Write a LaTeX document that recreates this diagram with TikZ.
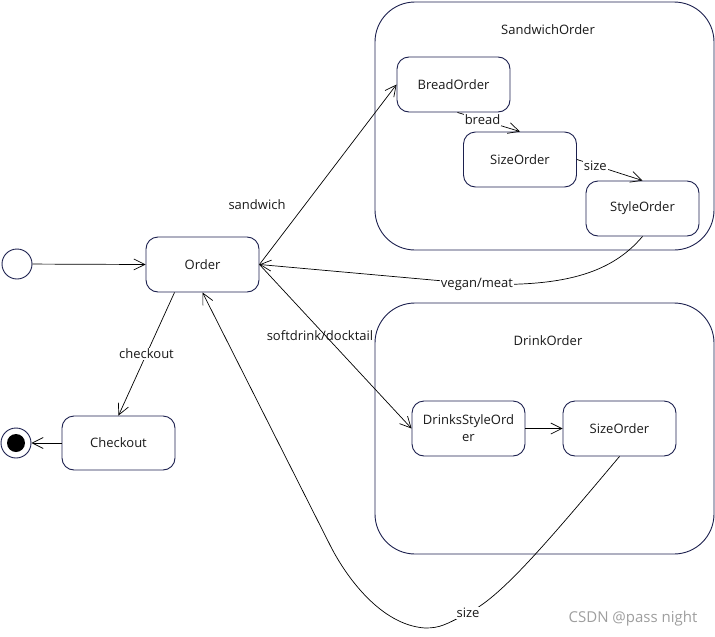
\documentclass[tikz,border=0pt]{standalone}
\usepackage{fontspec}
\setmainfont{Open Sans}
\usetikzlibrary{arrows.meta}
\definecolor{navy}{RGB}{28,32,78}
\begin{document}
\begin{tikzpicture}[x=1pt,y=-1pt,
  every node/.style={font=\fontsize{13}{17}\selectfont, text=black!90},
  state/.style={draw=navy, line width=0.9pt, rounded corners=12pt, minimum width=113pt, minimum height=55pt, inner sep=0pt, align=center},
  cont/.style={draw=navy, line width=0.9pt, rounded corners=40pt, minimum width=339pt, inner sep=0pt},
  arr/.style={draw=black, line width=0.7pt, -{Straight Barb[length=11pt,width=11pt]}},
  lbl/.style={fill=white, inner sep=1pt},
  pseudo/.style={circle, draw=navy, line width=0.9pt, minimum size=30pt, inner sep=0pt},
]
\useasboundingbox (0,0) rectangle (715,637);

% containers
\node[cont, minimum height=248pt] (sw) at (544.5,126) {};
\node (swl) at (548,30) {SandwichOrder};
\node[cont, minimum height=251pt] (dr) at (544.5,428.5) {};
\node (drl) at (548,341) {DrinkOrder};

% states
\node[pseudo] (init) at (17,264) {};
\node[pseudo] (fin) at (16,443) {};
\node[circle, fill=black, minimum size=18pt, inner sep=0pt] (fincore) at (fin) {};
\node[state] (ord) at (202.5,264.5) {Order};
\node[state, minimum height=54pt] (chk) at (118.5,443) {Checkout};
\node[state] (bread) at (453.5,84.5) {BreadOrder};
\node[state] (sz1) at (520,159.5) {SizeOrder};
\node[state] (sty) at (642.5,208.5) {StyleOrder};
\node[state] (dso) at (468.5,428.5) {DrinksStyleOrd\\er};
\node[state] (sz2) at (619.5,428.5) {SizeOrder};

% transitions
\draw[arr] (init) -- (ord.west);
\draw[arr] ([xshift=-28pt]ord.south) -- node[lbl, pos=0.5] {checkout} (chk.north);
\draw[arr] (chk.west) -- (fin.east);
\draw[arr] (ord.east) -- (bread.west);
\node (sandl) at (257,205) {sandwich};
\draw[arr] ([xshift=4pt]bread.south) -- node[lbl, pos=0.4] {bread} (sz1.north);
\draw[arr] (sz1.east) -- node[lbl, pos=0.28] {size} (sty.north);
\draw[arr] (sty.south) .. controls (610,275) and (560,287) .. (477,284)
  node[lbl] {vegan/meat} -- (ord.east);
\draw[arr] (ord.east) -- (dso.west);
\node (softl) at (320,336) {softdrink/docktail};
\draw[arr] (dso.east) -- (sz2.west);
\draw[arr] (sz2.south) .. controls (545,545) and (500,598) .. (468,613)
  node[lbl] {size}
  .. controls (445,625) and (440,628) .. (425,628)
  .. controls (380,625) and (345,575) .. (330,545) -- (ord.south);

% watermark
\node[text=black!38, font=\fontsize{15}{18}\selectfont] (wm) at (633,619) {CSDN @pass night};
\end{tikzpicture}
\end{document}
